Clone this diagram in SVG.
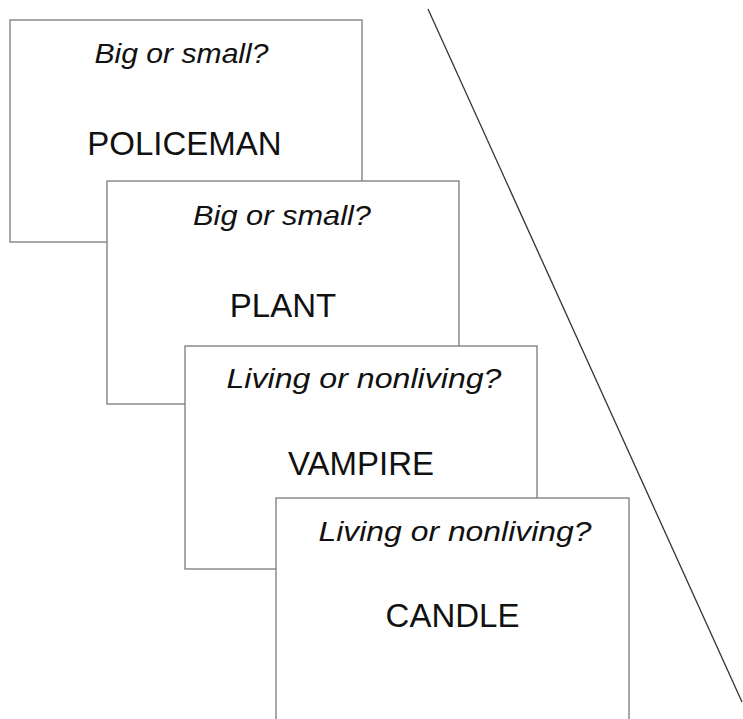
<svg xmlns="http://www.w3.org/2000/svg" width="743" height="719" viewBox="0 0 743 719">
<style>
.card{fill:#fff;stroke:#7a7a7a;stroke-width:1.3}
.q{font-family:"Liberation Sans",Arial,sans-serif;font-style:italic;font-size:28px;fill:#111;text-anchor:middle}
.w{font-family:"Liberation Sans",Arial,sans-serif;font-size:33px;fill:#111;text-anchor:middle}
.div{stroke:#333;stroke-width:1.3;fill:none}
</style>
<rect width="743" height="719" fill="#fff"/>
<g id="connectors">
<line class="div" x1="428" y1="9" x2="742" y2="702"/>
</g>
<g id="card1">
<rect class="card" x="10" y="20" width="352" height="222"/>
<text class="q" x="181.5" y="63" textLength="174" lengthAdjust="spacingAndGlyphs">Big or small?</text>
<text class="w" x="184.5" y="155">POLICEMAN</text>
</g>
<g id="card2">
<rect class="card" x="107" y="181" width="352" height="223"/>
<text class="q" x="282" y="225" textLength="178" lengthAdjust="spacingAndGlyphs">Big or small?</text>
<text class="w" x="283" y="316.5">PLANT</text>
</g>
<g id="card3">
<rect class="card" x="185" y="346" width="352" height="223"/>
<text class="q" x="364" y="388" textLength="275" lengthAdjust="spacingAndGlyphs">Living or nonliving?</text>
<text class="w" x="361" y="475">VAMPIRE</text>
</g>
<g id="card4">
<rect class="card" x="276" y="498" width="353" height="240"/>
<text class="q" x="455" y="541" textLength="273" lengthAdjust="spacingAndGlyphs">Living or nonliving?</text>
<text class="w" x="452.5" y="627">CANDLE</text>
</g>
</svg>
